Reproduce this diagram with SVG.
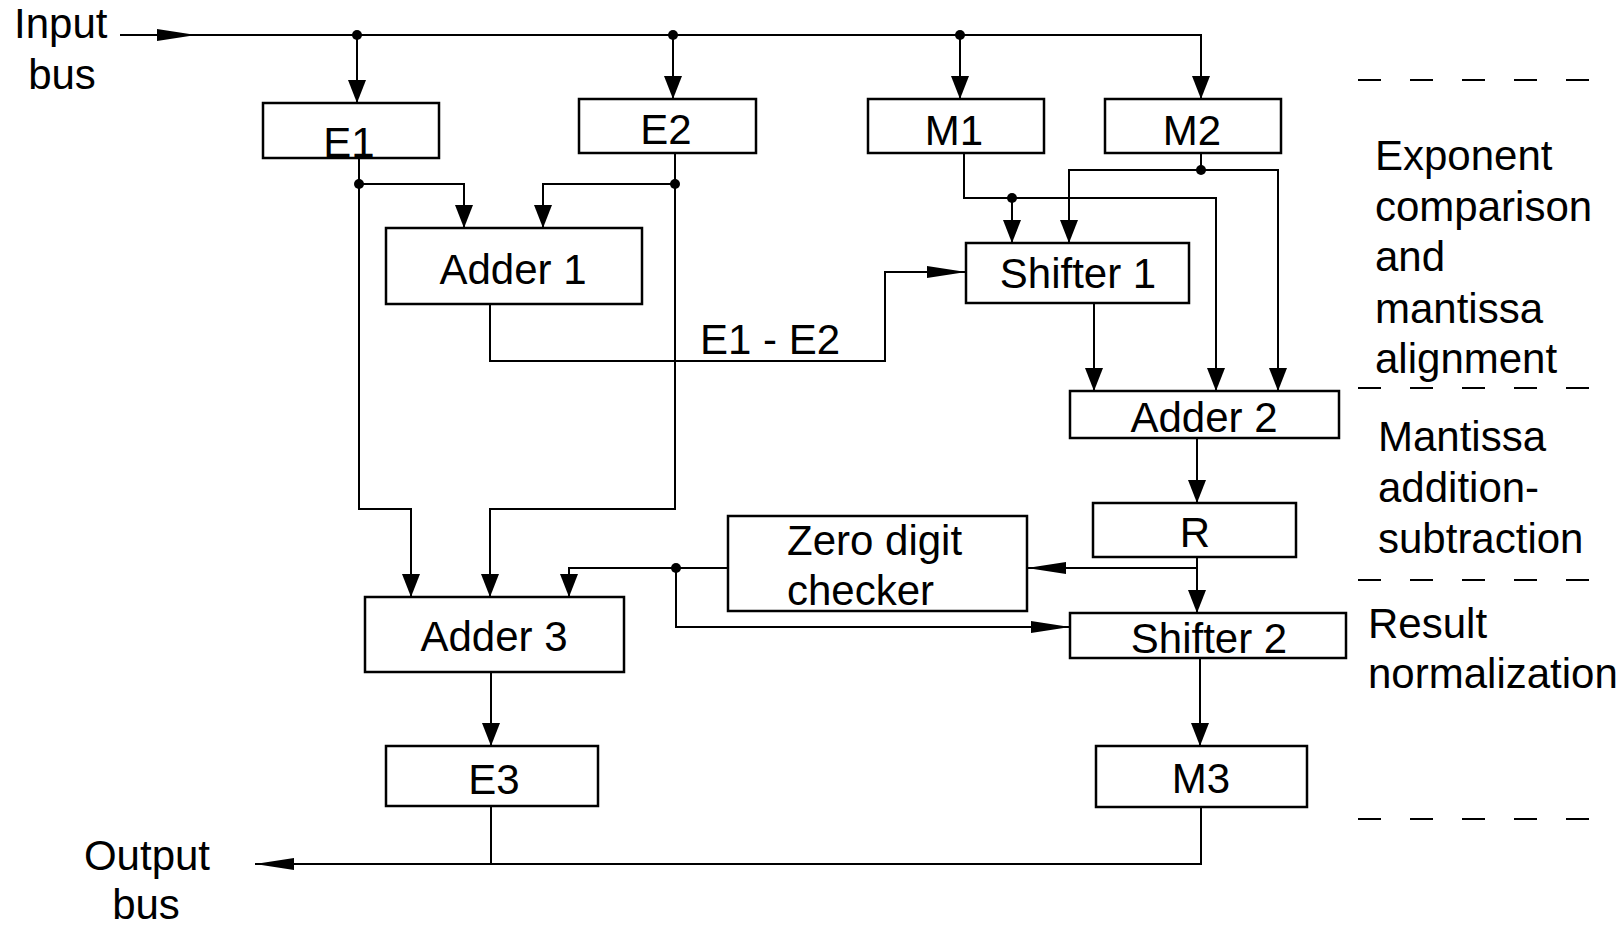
<svg xmlns="http://www.w3.org/2000/svg" width="1624" height="926" viewBox="0 0 1624 926">
<defs>
<style>
.box{fill:#fff;stroke:#000;stroke-width:2.5}
.t{font-family:"Liberation Sans",Arial,sans-serif;font-size:42px;fill:#000}
.c{text-anchor:middle}
.ln{fill:none;stroke:#000;stroke-width:2}
.v{marker-end:url(#mv)}
.h{marker-end:url(#mh)}
.dash{fill:none;stroke:#000;stroke-width:2;stroke-dasharray:23 29}
.dot{fill:#000}
</style>
<marker id="mv" markerUnits="userSpaceOnUse" markerWidth="24" markerHeight="18" refX="23" refY="9" orient="auto"><path d="M0,0 L23,9 L0,18 Z" fill="#000"/></marker>
<marker id="mh" markerUnits="userSpaceOnUse" markerWidth="40" markerHeight="12" refX="39" refY="6" orient="auto"><path d="M0,0 L39,6 L0,12 Z" fill="#000"/></marker>
</defs>
<rect width="1624" height="926" fill="#fff"/>

<g id="connectors">
<path class="ln h" d="M120,35 H196"/>
<path class="ln v" d="M196,35 H1201 V99"/>
<path class="ln v" d="M357,35 V103"/>
<path class="ln v" d="M673,35 V99"/>
<path class="ln v" d="M960,35 V99"/>
<path class="ln v" d="M359,158 V509 H411 V597"/>
<path class="ln v" d="M359,184 H464 V228"/>
<path class="ln v" d="M675,153 V509 H490 V597"/>
<path class="ln v" d="M675,184 H543 V228"/>
<path class="ln h" d="M490,304 V361 H885 V272 H966"/>
<text class="t" x="700" y="354">E1 - E2</text>
<path class="ln v" d="M964,153 V198 H1216 V391"/>
<path class="ln v" d="M1012,198 V243"/>
<path class="ln v" d="M1201,153 V170 H1069 V243"/>
<path class="ln v" d="M1201,170 H1278 V391"/>
<path class="ln v" d="M1094,303 V391"/>
<path class="ln v" d="M1197,438 V503"/>
<path class="ln v" d="M1197,557 V613"/>
<path class="ln h" d="M1197,568 H1027"/>
<path class="ln v" d="M728,568 H569 V597"/>
<path class="ln h" d="M676,568 V627 H1070"/>
<path class="ln v" d="M491,672 V746"/>
<path class="ln v" d="M1200,658 V746"/>
<path class="ln" d="M491,806 V864"/>
<path class="ln h" d="M1201,807 V864 H255"/>
<circle class="dot" cx="357" cy="35" r="5"/>
<circle class="dot" cx="673" cy="35" r="5"/>
<circle class="dot" cx="960" cy="35" r="5"/>
<circle class="dot" cx="359" cy="184" r="5"/>
<circle class="dot" cx="675" cy="184" r="5"/>
<circle class="dot" cx="1012" cy="198" r="5"/>
<circle class="dot" cx="1201" cy="170" r="5"/>
<circle class="dot" cx="676" cy="568" r="5"/>
</g>

<g id="E1"><rect class="box" x="263" y="103" width="176" height="55"/><text class="t c" x="349" y="157">E1</text></g>
<g id="E2"><rect class="box" x="579" y="99" width="177" height="54"/><text class="t c" x="666" y="144">E2</text></g>
<g id="M1"><rect class="box" x="868" y="99" width="176" height="54"/><text class="t c" x="954" y="145">M1</text></g>
<g id="M2"><rect class="box" x="1105" y="99" width="176" height="54"/><text class="t c" x="1192" y="145">M2</text></g>
<g id="Adder1"><rect class="box" x="386" y="228" width="256" height="76"/><text class="t c" x="513" y="284">Adder 1</text></g>
<g id="Shifter1"><rect class="box" x="966" y="243" width="223" height="60"/><text class="t c" x="1078" y="288">Shifter 1</text></g>
<g id="Adder2"><rect class="box" x="1070" y="391" width="269" height="47"/><text class="t c" x="1204" y="432">Adder 2</text></g>
<g id="R"><rect class="box" x="1093" y="503" width="203" height="54"/><text class="t c" x="1195" y="547">R</text></g>
<g id="ZeroDigitChecker"><rect class="box" x="728" y="516" width="299" height="95"/><text class="t" x="787" y="555">Zero digit</text><text class="t" x="787" y="605">checker</text></g>
<g id="Adder3"><rect class="box" x="365" y="597" width="259" height="75"/><text class="t c" x="494" y="651">Adder 3</text></g>
<g id="Shifter2"><rect class="box" x="1070" y="613" width="276" height="45"/><text class="t c" x="1209" y="653">Shifter 2</text></g>
<g id="E3"><rect class="box" x="386" y="746" width="212" height="60"/><text class="t c" x="494" y="794">E3</text></g>
<g id="M3"><rect class="box" x="1096" y="746" width="211" height="61"/><text class="t c" x="1201" y="793">M3</text></g>

<g id="labels">
<text class="t" x="14" y="38">Input</text>
<text class="t c" x="62" y="89">bus</text>
<text class="t c" x="147" y="870">Output</text>
<text class="t c" x="146" y="919">bus</text>
<text class="t" x="1375" y="170">Exponent</text>
<text class="t" x="1375" y="221">comparison</text>
<text class="t" x="1375" y="271">and</text>
<text class="t" x="1375" y="323">mantissa</text>
<text class="t" x="1375" y="373">alignment</text>
<text class="t" x="1378" y="451">Mantissa</text>
<text class="t" x="1378" y="502">addition-</text>
<text class="t" x="1378" y="553">subtraction</text>
<text class="t" x="1368" y="638">Result</text>
<text class="t" x="1368" y="688">normalization</text>
</g>

<g id="stage-dividers">
<path class="dash" d="M1358,80 H1592"/>
<path class="dash" d="M1358,388 H1592"/>
<path class="dash" d="M1358,580 H1592"/>
<path class="dash" d="M1358,819 H1592"/>
</g>
</svg>
